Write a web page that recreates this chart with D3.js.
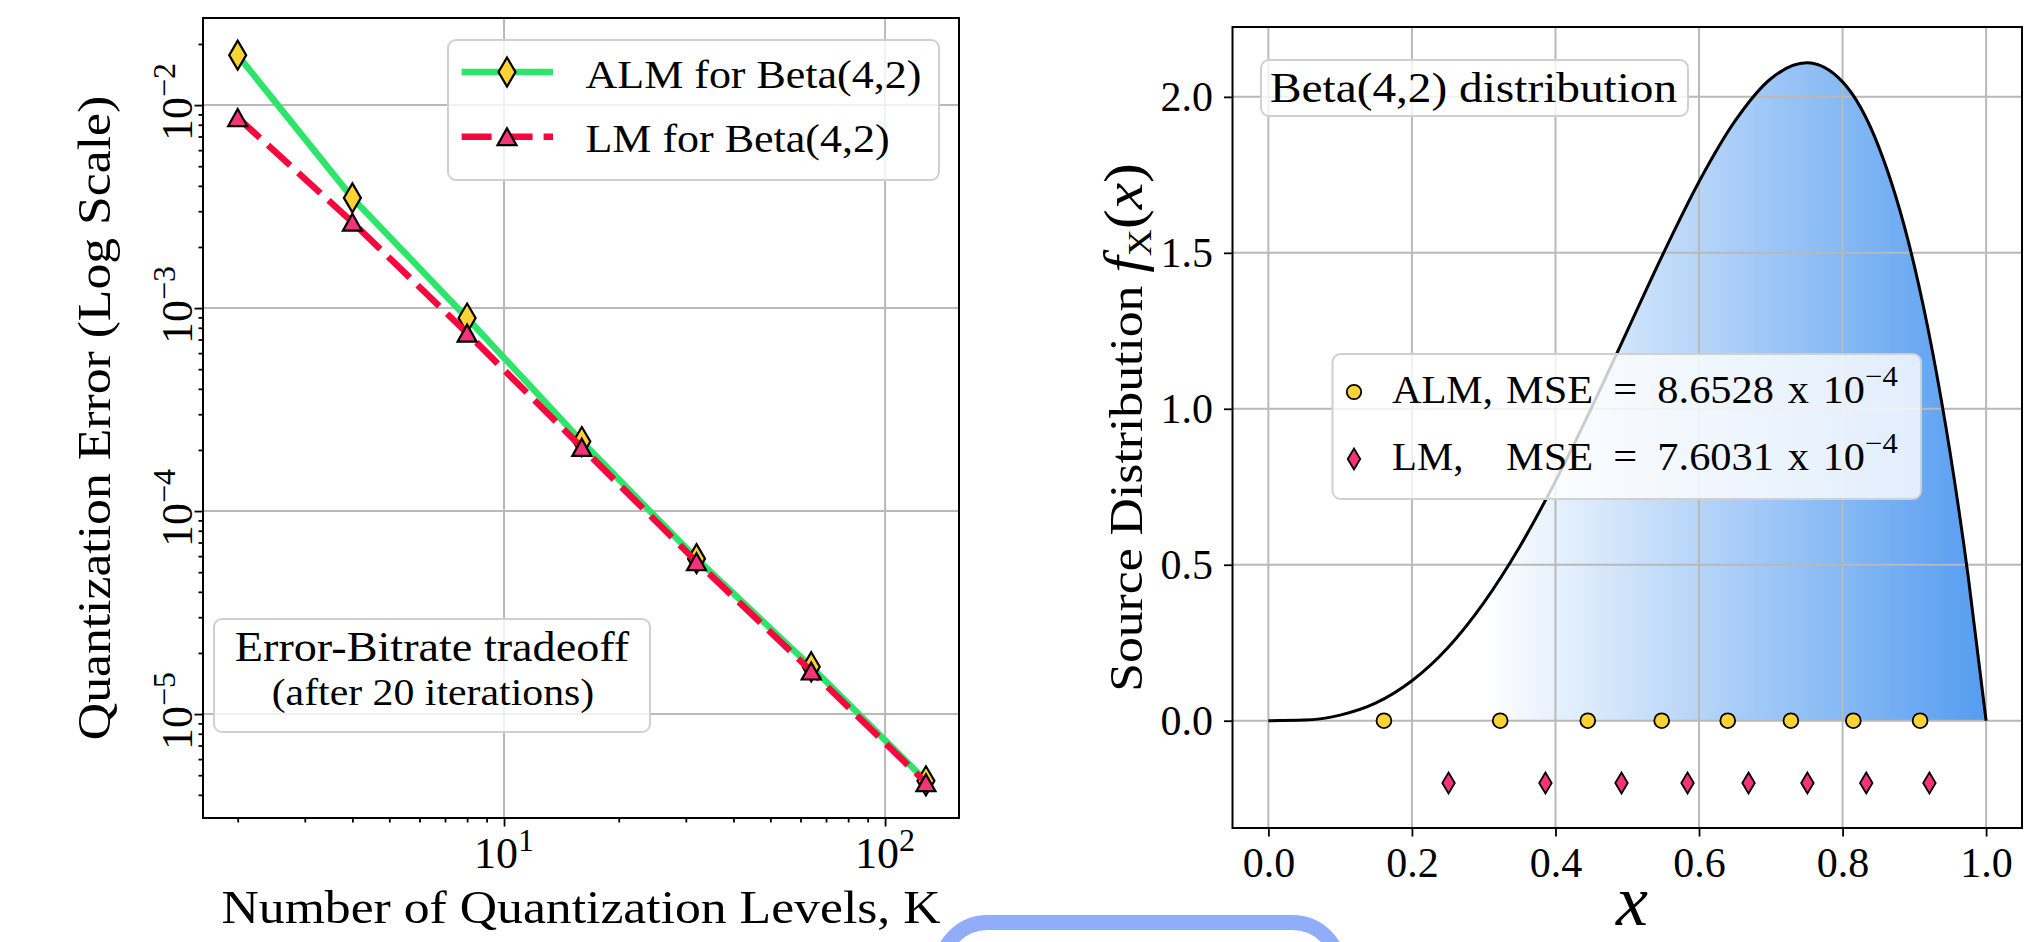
<!DOCTYPE html>
<html>
<head>
<meta charset="utf-8">
<script src="https://cdn.jsdelivr.net/npm/d3@7"></script>
<style>
  html, body { margin:0; padding:0; background:#ffffff; }
  svg { display:block; }
  text { font-family: "Liberation Serif", "Times New Roman", serif; fill:#000; }
</style>
</head>
<body>
<svg id="chart" width="2033" height="942"></svg>
<script>
// ---------- Data: left panel (quantization error vs number of levels) ----------
const levelsK = [2, 4, 8, 16, 32, 64, 128];
const almError = [0.01762, 0.00349, 0.000893, 0.000220, 0.0000583, 0.0000171, 0.00000469];
const lmError  = [0.00868, 0.00265, 0.000753, 0.000206, 0.0000563, 0.0000163, 0.00000459];
const seriesNames = ["ALM for Beta(4,2)", "LM for Beta(4,2)"];
const leftXTickExponents = ["1", "2"];
const leftYTickExponents = ["\u22125", "\u22124", "\u22123", "\u22122"];
const annotationLines = ["Error-Bitrate tradeoff", "(after 20 iterations)"];
const leftXLabel = "Number of Quantization Levels, K";
const leftYLabel = "Quantization Error (Log Scale)";

// ---------- Data: right panel (Beta(4,2) pdf and quantizer levels) ----------
const pdfX = [0, 0.05, 0.10, 0.15, 0.20, 0.25, 0.30, 0.35, 0.40, 0.45, 0.50, 0.55, 0.60, 0.65, 0.70, 0.75, 0.80, 0.85, 0.90, 0.925, 0.95, 0.975, 1.0];
const pdfY = [0, 0.002, 0.018, 0.057, 0.128, 0.234, 0.378, 0.557, 0.768, 1.002, 1.250, 1.497, 1.728, 1.922, 2.058, 2.109, 2.048, 1.842, 1.458, 1.187, 0.857, 0.463, 0];
const almLevels = [0.161, 0.323, 0.445, 0.548, 0.640, 0.728, 0.815, 0.908];
const lmLevels  = [0.251, 0.386, 0.492, 0.584, 0.669, 0.751, 0.833, 0.921];
const levelRows = [0.0, -0.2];
const rightXTicks = [0, 0.2, 0.4, 0.6, 0.8, 1.0];
const rightYTicks = [0, 0.5, 1.0, 1.5, 2.0];
const distName = "Beta(4,2) distribution";
const mseNames = ["ALM,", "LM,"];
const mseMantissas = ["8.6528", "7.6031"];
const mseExponent = "\u22124";

// ---------- Styling ----------
const svg = d3.select("#chart");
const SX = 1.13;               // horizontal stretch to mimic the wide Palatino face
const GRID = "#b9b9b9";
const C_GREEN = "#2ee56b", C_RED = "#f6083f", C_PINK = "#f5327a", C_YEL = "#fdd333";
const BOX_STROKE = "#d0d0d0";

function addText(parent, x, y, o) {
  const t = parent.append("text")
    .attr("transform", `translate(${x},${y}) rotate(${o.rot || 0}) scale(${o.sx === undefined ? SX : o.sx},1)`)
    .attr("text-anchor", o.anchor || "start")
    .style("font-size", o.size + "px");
  if (o.italic) t.style("font-style", "italic");
  if (o.text !== undefined) t.text(o.text);
  return t;
}
function powLabel(parent, x, y, exp, rot) {
  const t = addText(parent, x, y, {size: 44, anchor: "middle", rot: rot, sx: 1});
  t.append("tspan").text("10");
  t.append("tspan").attr("dy", -17).style("font-size", "32px").text(exp);
}
const diamondPath = (w, h) => `M0,${-h/2}L${w/2},0L0,${h/2}L${-w/2},0Z`;
const trianglePath = (w, h) => `M0,${-h/2}L${w/2},${h/2}L${-w/2},${h/2}Z`;
function legendBox(parent, x, y, w, h) {
  parent.append("rect").attr("x", x).attr("y", y).attr("width", w).attr("height", h)
    .attr("rx", 8).attr("fill", "#ffffff").attr("fill-opacity", 0.8)
    .attr("stroke", BOX_STROKE).attr("stroke-width", 2);
}

// =================== LEFT PANEL ===================
const L = {x0: 203, x1: 959, y0: 18, y1: 818};
const xL = d3.scaleLog().domain([Math.pow(10, 0.21), Math.pow(10, 2.194)]).range([L.x0, L.x1]);
const yL = d3.scaleLog().domain([Math.pow(10, -5.512), Math.pow(10, -1.571)]).range([L.y1, L.y0]);
const isDecade = d => Math.abs(Math.log10(d) - Math.round(Math.log10(d))) < 1e-9;
const xTicksL = xL.ticks(), yTicksL = yL.ticks();
const xMajorL = xTicksL.filter(isDecade), xMinorL = xTicksL.filter(d => !isDecade(d));
const yMajorL = yTicksL.filter(isDecade), yMinorL = yTicksL.filter(d => !isDecade(d));

const gl = svg.append("g");
// grid
gl.append("g").selectAll("line").data(xMajorL).join("line")
  .attr("x1", d => xL(d)).attr("x2", d => xL(d)).attr("y1", L.y0).attr("y2", L.y1)
  .attr("stroke", GRID).attr("stroke-width", 2);
gl.append("g").selectAll("line").data(yMajorL).join("line")
  .attr("y1", d => yL(d)).attr("y2", d => yL(d)).attr("x1", L.x0).attr("x2", L.x1)
  .attr("stroke", GRID).attr("stroke-width", 2);

// series
const lineL = d3.line().x((d, i) => xL(levelsK[i])).y(d => yL(d));
gl.append("path").datum(almError).attr("d", lineL).attr("fill", "none")
  .attr("stroke", C_GREEN).attr("stroke-width", 6.5).attr("stroke-linejoin", "round");
gl.append("g").selectAll("path").data(almError).join("path")
  .attr("transform", (d, i) => `translate(${xL(levelsK[i])},${yL(d)})`)
  .attr("d", diamondPath(17, 29)).attr("fill", C_YEL).attr("stroke", "#000").attr("stroke-width", 2.2);
gl.append("path").datum(lmError).attr("d", lineL).attr("fill", "none")
  .attr("stroke", C_RED).attr("stroke-width", 6.5).attr("stroke-dasharray", "30,11");
gl.append("g").selectAll("path").data(lmError).join("path")
  .attr("transform", (d, i) => `translate(${xL(levelsK[i])},${yL(d)})`)
  .attr("d", trianglePath(19, 17)).attr("fill", C_PINK).attr("stroke", "#000").attr("stroke-width", 2.2);

// legend
legendBox(gl, 448, 40, 491, 140);
const legRowsL = [72, 136.7];
gl.append("line").attr("x1", 461.6).attr("x2", 553).attr("y1", legRowsL[0]).attr("y2", legRowsL[0])
  .attr("stroke", C_GREEN).attr("stroke-width", 6.5);
gl.append("path").attr("transform", `translate(507,${legRowsL[0]})`).attr("d", diamondPath(17, 29))
  .attr("fill", C_YEL).attr("stroke", "#000").attr("stroke-width", 2.2);
gl.append("line").attr("x1", 461.6).attr("x2", 553).attr("y1", legRowsL[1]).attr("y2", legRowsL[1])
  .attr("stroke", C_RED).attr("stroke-width", 6.5).attr("stroke-dasharray", "30,11");
gl.append("path").attr("transform", `translate(507,${legRowsL[1]})`).attr("d", trianglePath(19, 17))
  .attr("fill", C_PINK).attr("stroke", "#000").attr("stroke-width", 2.2);
addText(gl, 585.5, 88, {size: 40, sx: 1.1, text: seriesNames[0]});
addText(gl, 585.5, 152, {size: 40, sx: 1.1, text: seriesNames[1]});

// annotation box
legendBox(gl, 214, 619, 436, 113);
addText(gl, 432, 661, {size: 42, sx: 1.1, anchor: "middle", text: annotationLines[0]});
addText(gl, 433, 705, {size: 38, sx: 1.1, anchor: "middle", text: annotationLines[1]});

// axes ticks
const axXL = gl.append("g").attr("transform", `translate(0,${L.y1})`);
axXL.append("g").call(d3.axisBottom(xL).tickValues(xMinorL).tickSize(4.5).tickFormat(""));
axXL.append("g").call(d3.axisBottom(xL).tickValues(xMajorL).tickSize(8.5).tickFormat(""));
const axYL = gl.append("g").attr("transform", `translate(${L.x0},0)`);
axYL.append("g").call(d3.axisLeft(yL).tickValues(yMinorL).tickSize(4.5).tickFormat(""));
axYL.append("g").call(d3.axisLeft(yL).tickValues(yMajorL).tickSize(8.5).tickFormat(""));
gl.selectAll(".domain").remove();
gl.selectAll(".tick line").attr("stroke", "#000").attr("stroke-width", 1.8);

// tick labels
xMajorL.forEach((d, i) => powLabel(gl, xL(d), 868, leftXTickExponents[i], 0));
yMajorL.forEach((d, i) => powLabel(gl, 192, yL(d) - 3, leftYTickExponents[i], -90));

// frame
gl.append("rect").attr("x", L.x0).attr("y", L.y0).attr("width", L.x1 - L.x0).attr("height", L.y1 - L.y0)
  .attr("fill", "none").attr("stroke", "#000").attr("stroke-width", 2);

// axis labels
addText(gl, (L.x0 + L.x1) / 2, 923, {size: 47, sx: 1.1, anchor: "middle", text: leftXLabel});
addText(gl, 110, (L.y0 + L.y1) / 2, {size: 47, sx: 1.1, anchor: "middle", rot: -90, text: leftYLabel});

// =================== RIGHT PANEL ===================
const R = {x0: 1232.5, x1: 2022, y0: 27, y1: 828};
const xR = d3.scaleLinear().domain([-0.05, 1.05]).range([R.x0, R.x1]);
const yR = d3.scaleLinear().domain([-0.344, 2.224]).range([R.y1, R.y0]);
const gr = svg.append("g");

const defs = svg.append("defs");
const grad = defs.append("linearGradient").attr("id", "pdfFill")
  .attr("gradientUnits", "userSpaceOnUse")
  .attr("x1", xR(0.3)).attr("x2", xR(1.0)).attr("y1", 0).attr("y2", 0);
grad.append("stop").attr("offset", 0).attr("stop-color", "#ffffff");
grad.append("stop").attr("offset", 1).attr("stop-color", "#559cf0");

const pdfData = pdfX.map((x, i) => ({x: x, y: pdfY[i]}));
gr.append("path").datum(pdfData)
  .attr("d", d3.area().curve(d3.curveMonotoneX).x(d => xR(d.x)).y0(yR(0)).y1(d => yR(d.y)))
  .attr("fill", "url(#pdfFill)");

// grid
gr.append("g").selectAll("line").data(rightXTicks).join("line")
  .attr("x1", d => xR(d)).attr("x2", d => xR(d)).attr("y1", R.y0).attr("y2", R.y1)
  .attr("stroke", GRID).attr("stroke-width", 2);
gr.append("g").selectAll("line").data(rightYTicks).join("line")
  .attr("y1", d => yR(d)).attr("y2", d => yR(d)).attr("x1", R.x0).attr("x2", R.x1)
  .attr("stroke", GRID).attr("stroke-width", 2);

// pdf curve
gr.append("path").datum(pdfData)
  .attr("d", d3.line().curve(d3.curveMonotoneX).x(d => xR(d.x)).y(d => yR(d.y)))
  .attr("fill", "none").attr("stroke", "#000").attr("stroke-width", 3);

// quantizer levels
gr.append("g").selectAll("circle").data(almLevels).join("circle")
  .attr("cx", d => xR(d)).attr("cy", yR(levelRows[0])).attr("r", 7.4)
  .attr("fill", C_YEL).attr("stroke", "#000").attr("stroke-width", 1.8);
gr.append("g").selectAll("path").data(lmLevels).join("path")
  .attr("transform", d => `translate(${xR(d)},${yR(levelRows[1])})`)
  .attr("d", diamondPath(12.5, 21)).attr("fill", C_PINK).attr("stroke", "#000").attr("stroke-width", 1.8);

// distribution label box
legendBox(gr, 1261, 60, 427, 56);
addText(gr, 1270, 102, {size: 43, sx: 1.1, text: distName});

// MSE legend
legendBox(gr, 1332.5, 354, 588.5, 145);
const legRowsR = [392, 459];
const legBase = [403, 470];
gr.append("circle").attr("cx", 1354).attr("cy", legRowsR[0]).attr("r", 7.2)
  .attr("fill", C_YEL).attr("stroke", "#000").attr("stroke-width", 1.8);
gr.append("path").attr("transform", `translate(1354,${legRowsR[1]})`).attr("d", diamondPath(12.5, 21))
  .attr("fill", C_PINK).attr("stroke", "#000").attr("stroke-width", 1.8);
mseNames.forEach((name, i) => {
  addText(gr, 1392, legBase[i], {size: 40, sx: 1.02, text: name});
  const t = addText(gr, 1506, legBase[i], {size: 40, sx: 1.06});
  t.append("tspan").text("MSE");
  t.append("tspan").attr("dx", 19).text("=");
  t.append("tspan").attr("dx", 19).text(mseMantissas[i]);
  t.append("tspan").attr("dx", 13).text("x");
  t.append("tspan").attr("dx", 13).text("10");
  t.append("tspan").attr("dy", -17).style("font-size", "29px").text(mseExponent);
});

// axes
const axXR = gr.append("g").attr("transform", `translate(0,${R.y1})`)
  .call(d3.axisBottom(xR).tickValues(rightXTicks).tickFormat(d3.format(".1f")).tickSize(8.5).tickPadding(10.5));
const axYR = gr.append("g").attr("transform", `translate(${R.x0},0)`)
  .call(d3.axisLeft(yR).tickValues(rightYTicks).tickFormat(d3.format(".1f")).tickSize(8.5).tickPadding(11));
[axXR, axYR].forEach(a => {
  a.select(".domain").remove();
  a.selectAll(".tick line").attr("stroke", "#000").attr("stroke-width", 1.8);
  a.selectAll(".tick text").style("font-size", "42px").attr("fill", "#000");
});

// frame
gr.append("rect").attr("x", R.x0).attr("y", R.y0).attr("width", R.x1 - R.x0).attr("height", R.y1 - R.y0)
  .attr("fill", "none").attr("stroke", "#000").attr("stroke-width", 2);

// axis labels
addText(gr, 1632, 925, {size: 72, anchor: "middle", italic: true, sx: 1, text: "x"});
const yl = addText(gr, 1142, (R.y0 + R.y1) / 2, {size: 47, sx: 1.1, anchor: "middle", rot: -90});
yl.append("tspan").text("Source Distribution ");
yl.append("tspan").style("font-style", "italic").style("font-size", "54px").text("f");
yl.append("tspan").attr("dy", 9).style("font-size", "34px").text("X");
yl.append("tspan").attr("dy", -9).style("font-size", "54px").text("(");
yl.append("tspan").style("font-style", "italic").style("font-size", "54px").text("x");
yl.append("tspan").style("font-size", "54px").text(")");

// decorative rounded frame at bottom centre
svg.append("rect").attr("x", 940.5).attr("y", 922.5).attr("width", 399).attr("height", 200)
  .attr("rx", 47).attr("fill", "none").attr("stroke", "#91adf9").attr("stroke-width", 15);
</script>
</body>
</html>
